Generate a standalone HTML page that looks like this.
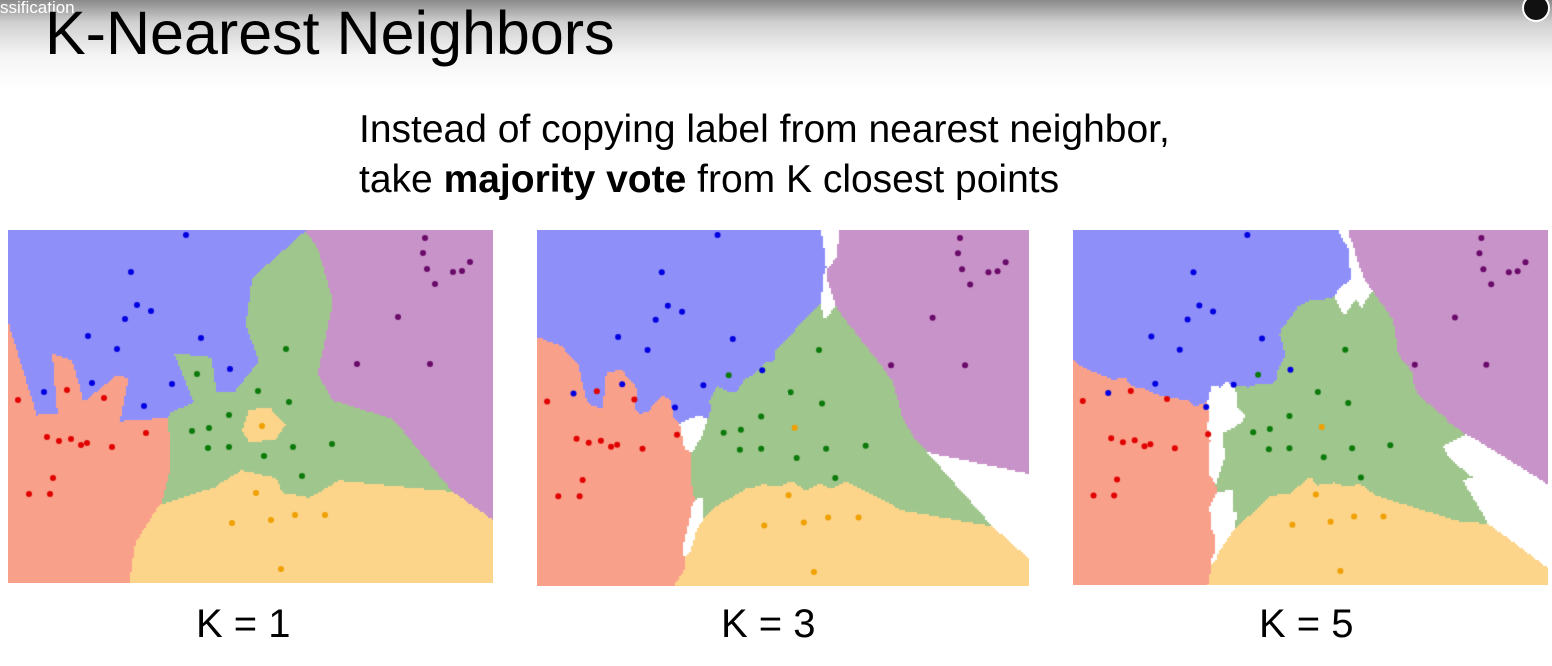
<!DOCTYPE html>
<html><head><meta charset="utf-8">
<style>
html,body{margin:0;padding:0;width:1552px;height:666px;overflow:hidden;background:#fff;font-family:"Liberation Sans",sans-serif;}
#topband{position:absolute;left:0;top:0;width:1552px;height:90px;background:linear-gradient(#8a8a8a 0px,#cfcfcf 22px,#f4f4f4 55px,#fff 90px);}
.abs{position:absolute;white-space:nowrap;}
canvas{position:absolute;}
</style></head><body>
<div id="topband"></div>
<div class="abs" style="left:0;top:-2px;font-size:17px;color:#fff;">ssification</div>
<div class="abs" style="left:45px;top:-2px;font-size:61px;color:#000;">K-Nearest Neighbors</div>
<div class="abs" style="left:1522px;top:-6px;width:24px;height:24px;border-radius:50%;background:#111;border:2px solid #fff;"></div>
<div class="abs" style="left:359px;top:108px;font-size:39px;color:#000;">Instead of copying label from nearest neighbor,</div>
<div class="abs" style="left:359px;top:158px;font-size:39px;color:#000;">take <b>majority vote</b> from K closest points</div>

<canvas id="c1" style="left:8px;top:230px" width="485" height="353"></canvas>
<canvas id="c3" style="left:537px;top:230px" width="492" height="356"></canvas>
<canvas id="c5" style="left:1073px;top:230px" width="475" height="355"></canvas>

<div class="abs" style="left:196px;top:602px;font-size:40px;">K = 1</div>
<div class="abs" style="left:721px;top:602px;font-size:40px;">K = 3</div>
<div class="abs" style="left:1259px;top:602px;font-size:40px;">K = 5</div>

<script>
// data in reference units (panel of 485 x 353)
const classNames = ["blue","purple","green","orange","red"];
const blueX = [178,123,129,143,117,80,193,109,222,84,164,36,136];
const blueY = [5,42,75,81,89,106,108,119,139,153,154,162,176];
const purpleX = [417,415,419,427,445,454,462,390,349,422];
const purpleY = [8,23,39,54,42,41,32,87,134,134];
const greenX = [278,189,250,281,221,184,201,200,221,256,285,324,294];
const greenY = [119,144,161,172,185,201,198,218,217,226,217,214,246];
const orangeX = [254,248,224,263,287,317,273];
const orangeY = [196,263,293,290,285,285,339];
const redX = [10,59,96,138,39,51,63,73,79,104,45,21,42];
const redY = [170,160,168,203,207,211,209,215,213,217,248,264,264];
const kValues = [1,3,5];

const regionColors = ["#8f8ffa","#c893c8","#9fc68d","#fcd58a","#f9a08a"];
const pointColors = ["#0000e0","#6a0a6a","#0b7a0b","#f0a000","#e00000"];
const xs=[blueX,purpleX,greenX,orangeX,redX], ys=[blueY,purpleY,greenY,orangeY,redY];
const pts=[];
xs.forEach((arr,c)=>arr.forEach((x,i)=>pts.push({x:x,y:ys[c][i],c:c})));
const W=485,H=353;

function classify(x,y,k){
  const d=pts.map(p=>({d:(p.x-x)*(p.x-x)+(p.y-y)*(p.y-y),c:p.c})).sort((a,b)=>a.d-b.d);
  const v=[0,0,0,0,0];
  for(let i=0;i<k;i++)v[d[i].c]++;
  const m=Math.max(...v);
  const w=v.filter(q=>q===m).length;
  return w===1?v.indexOf(m):-1;
}
function draw(id,k){
  const cv=document.getElementById(id),ctx=cv.getContext('2d');
  const cw=cv.width,ch=cv.height,sx=cw/W,sy=ch/H,step=2;
  ctx.fillStyle="#fff";ctx.fillRect(0,0,cw,ch);
  for(let py=0;py<ch;py+=step)for(let px=0;px<cw;px+=step){
    const c=classify((px+1)/sx,(py+1)/sy,k);
    if(c<0)continue;
    ctx.fillStyle=regionColors[c];ctx.fillRect(px,py,step,step);
  }
  pts.forEach(p=>{ctx.fillStyle=pointColors[p.c];ctx.beginPath();ctx.arc(p.x*sx,p.y*sy,3,0,Math.PI*2);ctx.fill();});
}
draw('c1',kValues[0]);draw('c3',kValues[1]);draw('c5',kValues[2]);
</script>
</body></html>
